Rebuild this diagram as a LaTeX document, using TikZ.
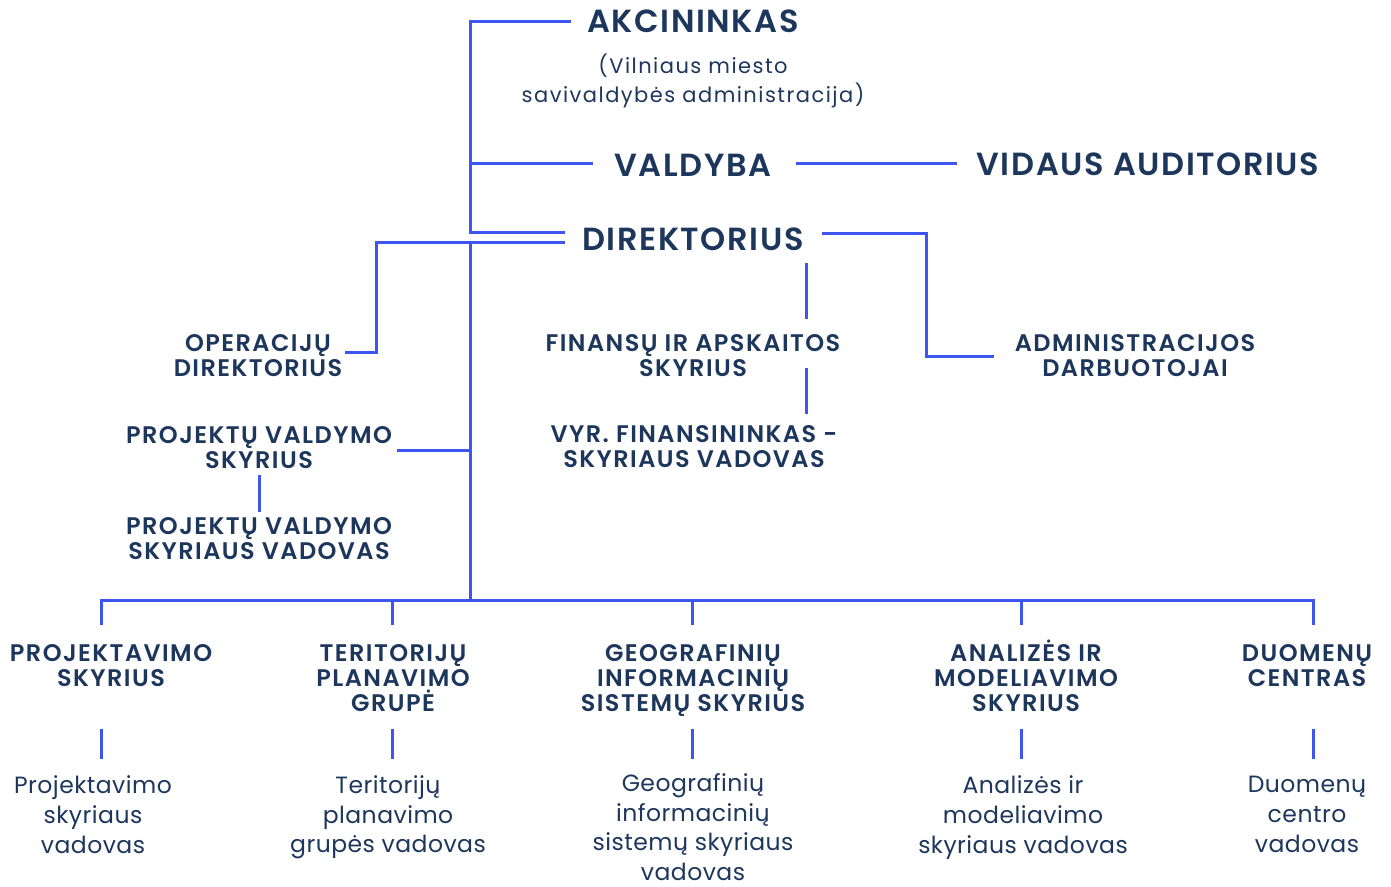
\documentclass[tikz,border=0pt]{standalone}
\usepackage{fontspec}
\setmainfont{Poppins}[LetterSpace=2]
\newfontfamily\medf{Poppins SemiBold}[LetterSpace=5]
\newfontfamily\semif{Poppins SemiBold}[LetterSpace=6]
\newfontfamily\subf{Poppins}[LetterSpace=7]
\definecolor{txt}{HTML}{1D365C}
\definecolor{ln}{HTML}{3D56F2}
\begin{document}
\begin{tikzpicture}[x=1pt,y=-1pt,
  conn/.style={draw=ln,line width=3pt},
  title/.style={font=\medf\fontsize{32}{32}\selectfont,text=txt,inner sep=0pt},
  sub/.style={font=\subf\fontsize{21}{29}\selectfont,text=txt,align=center,inner sep=0pt},
  head/.style={font=\semif\fontsize{24}{25}\selectfont,text=txt,align=center,inner sep=0pt},
  body/.style={font=\fontsize{23.5}{29.7}\selectfont,text=txt,align=center,inner sep=0pt}]
\useasboundingbox (0,0) rectangle (1391,886);
% top titles
\node[title] (a) at (693,21) {AKCININKAS};
\node[sub] (av) at (693,81) {(Vilniaus miesto\\savivaldybės administracija)};
\node[title] (v) at (693,165.5) {VALDYBA};
\node[title] (va) at (1148,164.5) {VIDAUS AUDITORIUS};
\node[title] (d) at (693,239.5) {DIREKTORIUS};
% middle headings
\node[head] (op) at (258,356) {OPERACIJŲ\\DIREKTORIUS};
\node[head] (pv) at (259,447.5) {PROJEKTŲ VALDYMO\\SKYRIUS};
\node[head] (pvv) at (259,539) {PROJEKTŲ VALDYMO\\SKYRIAUS VADOVAS};
\node[head] (fin) at (693,356) {FINANSŲ IR APSKAITOS\\SKYRIUS};
\node[head] (vyr) at (694,447) {VYR. FINANSININKAS -\\SKYRIAUS VADOVAS};
\node[head] (adm) at (1135,356) {ADMINISTRACIJOS\\DARBUOTOJAI};
% bottom headings
\node[head] (h1) at (111,666) {PROJEKTAVIMO\\SKYRIUS};
\node[head] (h2) at (393,678.5) {TERITORIJŲ\\PLANAVIMO\\GRUPĖ};
\node[head] (h3) at (693,681) {GEOGRAFINIŲ\\INFORMACINIŲ\\SISTEMŲ SKYRIUS};
\node[head] (h4) at (1026,676) {ANALIZĖS IR\\MODELIAVIMO\\SKYRIUS};
\node[head] (h5) at (1307,666) {DUOMENŲ\\CENTRAS};
% bottom bodies
\node[body] (b1) at (93,814.5) {Projektavimo\\skyriaus\\vadovas};
\node[body] (b2) at (388,817.5) {Teritorijų\\planavimo\\grupės vadovas};
\node[body] (b3) at (693,827) {Geografinių\\informacinių\\sistemų skyriaus\\vadovas};
\node[body] (b4) at (1023,817.5) {Analizės ir\\modeliavimo\\skyriaus vadovas};
\node[body] (b5) at (1307,814.5) {Duomenų\\centro\\vadovas};
% junctions
\coordinate (tTop) at (470,21);
\coordinate (tMid) at (470,232);
\coordinate (tV) at (470,163);
\coordinate (tD) at (470,242);
\coordinate (tP) at (470,450);
\coordinate (tB) at (470,600);
\coordinate (opC) at (376,242);
\coordinate (admC) at (926,233);
\coordinate (j1) at (101,600);
\coordinate (j2) at (392,600);
\coordinate (j3) at (692,600);
\coordinate (j4) at (1021,600);
\coordinate (j5) at (1313,600);
% connectors
\draw[conn] ([xshift=-16pt]a.west) -- (tTop) -- (tMid) -- ([xshift=-17pt,yshift=7.5pt]d.west);
\draw[conn] (tV) -- ([xshift=-21pt,yshift=2.5pt]v.west);
\draw[conn] ([xshift=24pt,yshift=2.5pt]v.east) -- ([xshift=-19pt,yshift=1.5pt]va.west);
\draw[conn] ([xshift=-17pt,yshift=-2.5pt]d.west) -- (opC) |- ([xshift=3pt,yshift=4pt]op.east);
\draw[conn] (tD) -- (tB);
\draw[conn] ([xshift=5pt,yshift=-2.5pt]pv.east) -- (tP);
\draw[conn] ([xshift=18pt,yshift=6.5pt]d.east) -- (admC) |- ([xshift=-21pt]adm.west);
\draw[conn] (806,263) -- (806,319);
\draw[conn] (806,368) -- (806,414);
\draw[conn] (259,475) -- (259,512);
\draw[conn] ([yshift=-25pt]j1) -- (j1) -- (j5) -- ([yshift=-25pt]j5);
\foreach \j in {j2,j3,j4} \draw[conn] (\j) -- ([yshift=-25pt]\j);
\foreach \j in {j1,j2,j3,j4,j5} \draw[conn] ([yshift=-129pt]\j) -- ([yshift=-159pt]\j);
\end{tikzpicture}
\end{document}
